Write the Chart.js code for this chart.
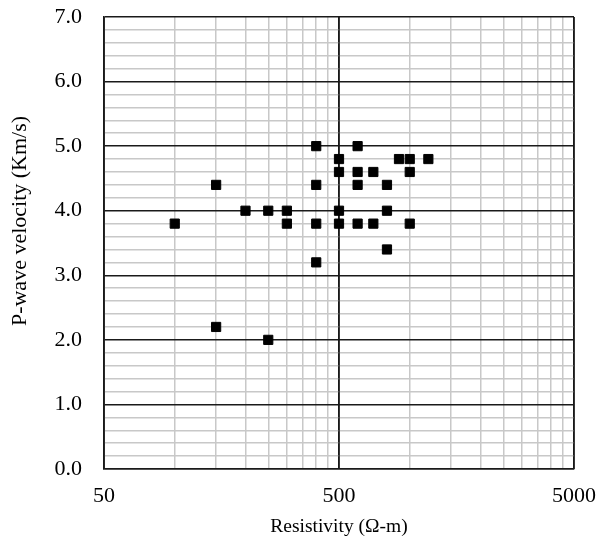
<!DOCTYPE html>
<html>
<head>
<meta charset="utf-8">
<script src="https://cdn.jsdelivr.net/npm/chart.js@4/dist/chart.umd.min.js"></script>
<style>
  html, body { margin: 0; padding: 0; background: #fff; }
  #wrap { width: 600px; height: 543px; }
</style>
</head>
<body>
<div id="wrap"><canvas id="scatterChart"></canvas></div>
<script>
  // data
  var resistivity = [100, 150, 150, 200, 250, 250, 300, 300, 400, 400, 400, 400, 500, 500, 500, 500,
                     600, 600, 600, 600, 700, 700, 800, 800, 800, 900, 1000, 1000, 1000, 1200];
  var velocity    = [3.8, 4.4, 2.2, 4.0, 4.0, 2.0, 4.0, 3.8, 5.0, 4.4, 3.8, 3.2, 4.8, 4.6, 4.0, 3.8,
                     5.0, 4.6, 4.4, 3.8, 4.6, 3.8, 4.4, 4.0, 3.4, 4.8, 4.8, 4.6, 3.8, 4.8];
  var xMajor = [50, 500, 5000];
  var xGrid = [50, 100, 150, 200, 250, 300, 350, 400, 450, 500,
               1000, 1500, 2000, 2500, 3000, 3500, 4000, 4500, 5000];

  var points = resistivity.map(function (r, i) { return { x: r, y: velocity[i] }; });
  var font = "'Liberation Serif', 'Times New Roman', serif";
  var majorColor = '#1a1a1a';
  var minorColor = '#c8c8c8';

  function isMajorY(v) { return Math.abs(v - Math.round(v)) < 1e-6; }

  // keep the black major verticals on top of the grey horizontal minors
  var majorLines = {
    id: 'majorLines',
    beforeDatasetsDraw: function (chart) {
      var ctx = chart.ctx, area = chart.chartArea, xs = chart.scales.x;
      ctx.save();
      ctx.strokeStyle = majorColor;
      ctx.lineWidth = 1.5;
      xMajor.forEach(function (v) {
        var px = xs.getPixelForValue(v);
        ctx.beginPath();
        ctx.moveTo(px, area.top);
        ctx.lineTo(px, area.bottom);
        ctx.stroke();
      });
      ctx.restore();
    }
  };

  var ctxS = document.getElementById("scatterChart").getContext('2d');
  var myScatter = new Chart(ctxS, {
    type: 'scatter',
    data: {
      datasets: [{
        label: "P-wave velocity",
        data: points,
        pointStyle: 'rect',
        pointRadius: 6.5,
        pointHoverRadius: 6.5,
        backgroundColor: '#000',
        borderColor: '#000',
        borderWidth: 1
      }]
    },
    plugins: [majorLines],
    options: {
      responsive: true,
      maintainAspectRatio: false,
      animation: false,
      layout: { padding: { top: 17, right: 26, left: 0, bottom: 0 } },
      plugins: { legend: { display: false }, tooltip: { enabled: false } },
      scales: {
        x: {
          type: 'logarithmic',
          min: 50,
          max: 5000,
          afterBuildTicks: function (scale) {
            scale.ticks = xGrid.map(function (v) { return { value: v }; });
          },
          afterFit: function (scale) {
            scale.height = 74;
            scale.paddingLeft = 0;
            scale.paddingRight = 0;
          },
          ticks: {
            autoSkip: false,
            maxRotation: 0,
            padding: 14,
            color: '#000',
            font: { family: font, size: 22 },
            callback: function (v) { return xMajor.indexOf(v) >= 0 ? String(v) : ''; }
          },
          grid: {
            drawTicks: false,
            lineWidth: 1.5,
            color: function (c) {
              return c.tick && xMajor.indexOf(c.tick.value) >= 0 ? majorColor : minorColor;
            }
          },
          border: { color: majorColor, width: 1.5 },
          title: {
            display: true,
            text: 'Resistivity (Ω-m)',
            color: '#000',
            font: { family: font, size: 19.5 },
            padding: { top: 2, bottom: 4 }
          }
        },
        y: {
          min: 0,
          max: 7,
          afterFit: function (scale) {
            scale.width = 104;
            scale.paddingTop = 0;
            scale.paddingBottom = 0;
          },
          ticks: {
            stepSize: 0.2,
            autoSkip: false,
            padding: 22,
            color: '#000',
            font: { family: font, size: 22 },
            callback: function (v) { return isMajorY(v) ? Number(v).toFixed(1) : ''; }
          },
          grid: {
            drawTicks: false,
            lineWidth: 1.5,
            color: function (c) {
              return c.tick && isMajorY(c.tick.value) ? majorColor : minorColor;
            }
          },
          border: { color: majorColor, width: 1.5 },
          title: {
            display: true,
            text: '        P-wave velocity (Km/s)',
            color: '#000',
            font: { family: font, size: 22 },
            padding: { top: 7, bottom: 0 }
          }
        }
      }
    }
  });
</script>
</body>
</html>
